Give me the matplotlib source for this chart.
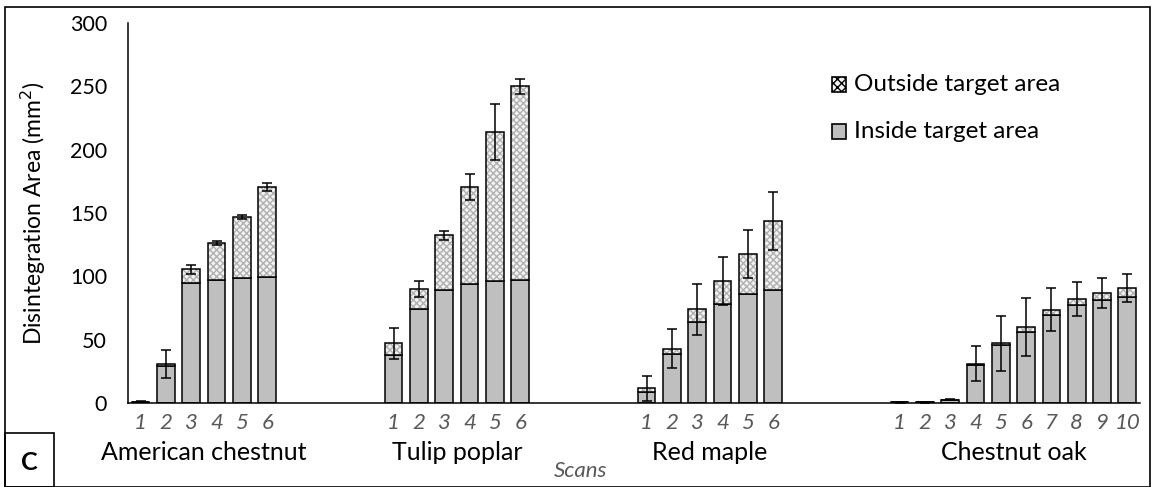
import matplotlib.pyplot as plt
import numpy as np
from matplotlib.patches import Rectangle

plt.rcParams['font.family'] = ['Lato', 'DejaVu Sans']

groups = ["American chestnut", "Tulip poplar", "Red maple", "Chestnut oak"]
scans = [6, 6, 6, 10]

inside = [
    [1, 29, 95, 97, 98.5, 99.5],
    [38, 74, 89, 94, 96, 97],
    [9, 39, 64, 78, 86, 89],
    [0.5, 0.5, 2, 30, 46, 56, 69.5, 77, 81, 84],
]
outside = [
    [0, 2, 10.5, 29, 48.5, 71],
    [9, 16, 43.5, 76.5, 118, 153],
    [2.5, 4, 10, 18, 31.5, 54.5],
    [0, 0, 0.5, 1, 1, 4, 4, 5, 6, 7],
]
errors = [
    [0.5, 11, 3.5, 1.5, 1.5, 3.5],
    [12.5, 6.5, 3.5, 10, 22, 6],
    [10, 15.5, 20, 19, 19, 23],
    [0.3, 0.3, 0.5, 14, 22, 23, 17, 13.5, 12, 11],
]
gap = 4  # empty category slots between species

fig = plt.figure(figsize=(11.53, 4.87), dpi=100)
ax = fig.add_axes([0.111, 0.1725, 0.8777, 0.7803])

grey = '#bfbfbf'
tick_col = '#595959'
width = 0.7

xs, labels, centers = [], [], []
pos = 0
for g, n in enumerate(scans):
    x = np.arange(pos, pos + n)
    ins = np.array(inside[g])
    out = np.array(outside[g])
    tot = ins + out
    ax.bar(x, ins, width, color=grey, edgecolor='black', linewidth=1.1, zorder=2)
    # hatched part: pattern first, then outline
    ax.bar(x, out, width, bottom=ins, color='#f2f2f2', edgecolor='#b0b0b0',
           hatch='xxxxx', linewidth=0, zorder=2)
    ax.bar(x, out, width, bottom=ins, fill=False, edgecolor='black',
           linewidth=1.1, zorder=3)
    ax.errorbar(x, tot, yerr=errors[g], fmt='none', ecolor='black',
                elinewidth=1.1, capsize=3.5, capthick=1.1, zorder=4)
    xs.extend(x)
    labels.extend([str(i + 1) for i in range(n)])
    centers.append(x.mean())
    pos += n + gap

ax.set_xlim(-0.5, pos - gap - 0.5)
ax.set_ylim(0, 300)
ax.set_yticks(np.arange(0, 301, 50))
ax.tick_params(axis='y', length=0, pad=15, labelsize=15.5)
ax.set_xticks(xs)
ax.set_xticklabels(labels, style='italic', color=tick_col, fontsize=16)
ax.tick_params(axis='x', length=0, pad=7)
for s in ['top', 'right']:
    ax.spines[s].set_visible(False)
for s in ['left', 'bottom']:
    ax.spines[s].set_linewidth(1.1)

for c, name in zip(centers, groups):
    ax.text(c, -0.13, name, transform=ax.get_xaxis_transform(),
            ha='center', va='center', fontsize=18)
ax.text(17.4, -0.178, 'Scans', transform=ax.get_xaxis_transform(),
        ha='center', va='center', fontsize=16, style='italic', color=tick_col)

ax.set_ylabel('Disintegration Area (mm$^2$)', fontsize=16.5, labelpad=16)

# legend drawn by hand like the original
lx, ly = 0.7215, 0.827
for i, (lab, hatched) in enumerate([('Outside target area', True),
                                    ('Inside target area', False)]):
    y = ly - i * 0.097
    fc = '#f2f2f2' if hatched else grey
    r = Rectangle((lx, y - 0.015), 0.0125, 0.030, transform=fig.transFigure,
                  facecolor=fc, edgecolor='black', linewidth=1.2,
                  hatch='xxxx' if hatched else None)
    fig.patches.append(r)
    fig.text(lx + 0.019, y, lab, fontsize=17.5, va='center', ha='left')

# panel frame and letter box
fig.patches.append(Rectangle((0.004, 0.0), 0.993, 0.985, transform=fig.transFigure,
                             fill=False, edgecolor='black', linewidth=1.2))
fig.patches.append(Rectangle((0.004, 0.0), 0.043, 0.111, transform=fig.transFigure,
                             fill=False, edgecolor='black', linewidth=1.2))
fig.text(0.0255, 0.05, 'C', fontsize=18, fontweight='bold', ha='center', va='center')

fig.savefig('out.png', dpi=100)
